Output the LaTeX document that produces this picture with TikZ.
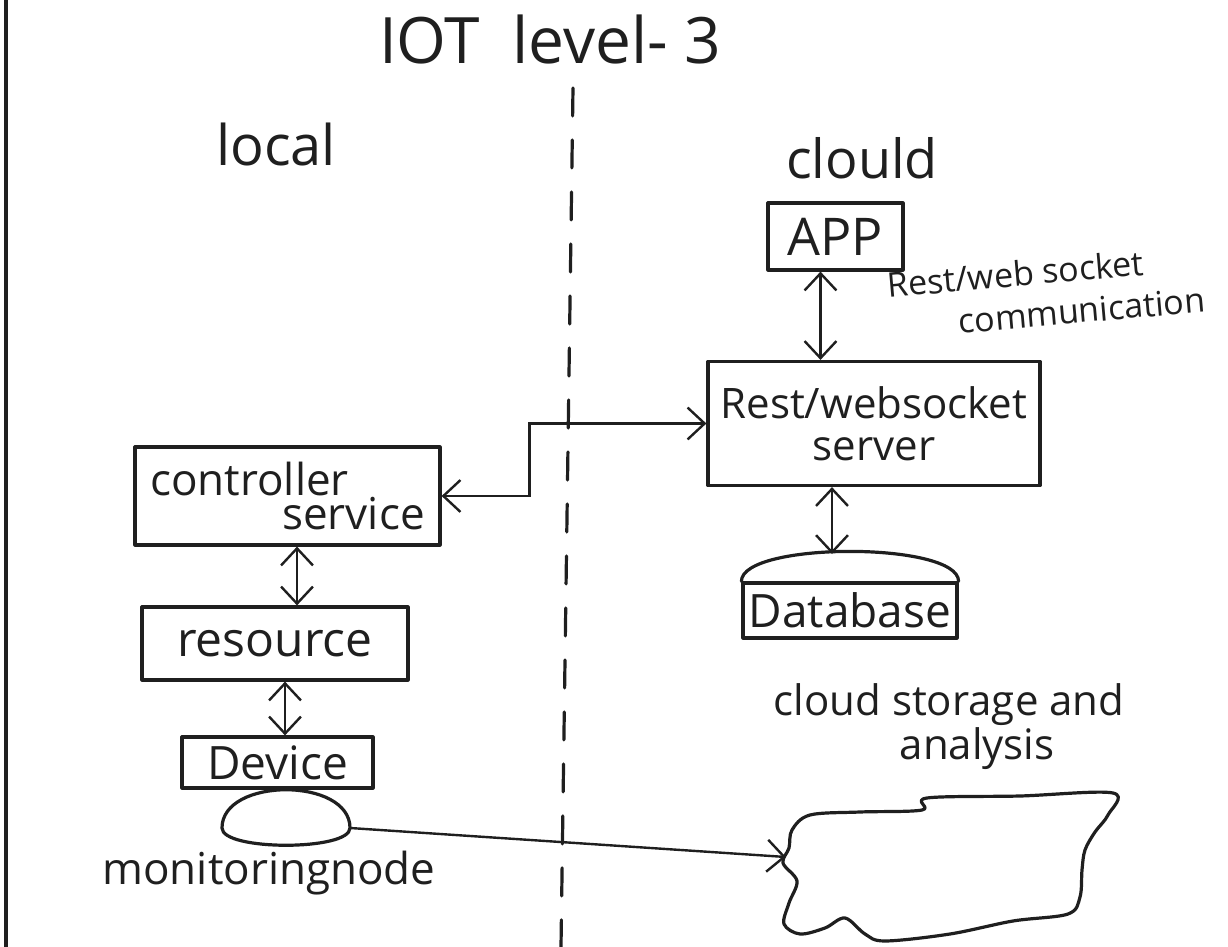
\documentclass[tikz,border=0pt]{standalone}
\usepackage{fontspec}
\setmainfont{Open Sans}
\usetikzlibrary{arrows.meta,positioning,calc}
\newcommand{\inksize}[2]{\fontsize{#1}{#2}\selectfont}

\begin{document}
\begin{tikzpicture}[
  x=0.5pt, y=-0.5pt,
  ink/.style={line width=1.6pt, black!88, line cap=round, line join=round},
  box/.style={ink, draw, rectangle, inner sep=0pt, align=center},
  link/.style={{Straight Barb[length=3mm,width=5.6mm]}-{Straight Barb[length=3mm,width=5.6mm]},
               line width=1.2pt, black!88},
  feed/.style={-{Straight Barb[length=3mm,width=5.6mm]}, line width=1.2pt, black!88},
  every node/.style={text=black!88}]

\useasboundingbox (0,0) rectangle (1228,947);

% ---- margin of the page and the dividing line ---------------------------
\draw[ink, line width=2.2pt] (6,0) -- (6,947);
\coordinate (divtop) at (573,88);
\coordinate (divbot) at (561,947);
\draw[ink, dash pattern=on 14pt off 12pt] (divtop) -- (divbot);

% ---- headings ------------------------------------------------------------
\node[font=\inksize{32}{36}] (title) at (550,40)  {IOT\hspace{0.5em}level- 3};
\node[font=\inksize{28}{30}] (loc)   at (276,145) {local};
\node[font=\inksize{27}{30}] (cld)   at (862,158) {clould};

% ---- cloud side ------------------------------------------------------------
\node[box, minimum width=67.5pt, minimum height=33.5pt, font=\inksize{26}{28}] (app)
     at (835.5,236.5) {APP};
\node[rotate=5, align=left, font=\inksize{17}{21}] (comm) at (1046,292)
     {Rest/web socket\\\hspace*{34pt}communication};
\node[box, minimum width=166pt, minimum height=62pt, font=\inksize{21}{21}] (srv)
     at (874,423.5) {Rest/websocket\\server};
\node[box, minimum width=107pt, minimum height=27.5pt, font=\inksize{23}{23}] (db)
     at (850,610.5) {Database};
\draw[ink] (db.north west) .. controls +(0,-40) and +(0,-40) .. (db.north east);
\coordinate (dbtop) at (832,554);

\node[align=left, font=\inksize{21}{20}] (store) at (949,727)
     {cloud storage and\\\hspace*{63pt}analysis};
\draw[ink] plot[smooth cycle, tension=0.55] coordinates {
  (1113,793) (1020,796) (927,798) (922,810) (860,812) (810,815) (792,830)
  (789,848) (783,863) (797,881) (789,903) (784,924) (800,934) (825,928)
  (845,918) (865,934) (885,941) (950,934) (1013,921) (1068,914) (1080,897)
  (1082,870) (1085,850) (1095,832) (1108,815)};
\coordinate (cloudL) at (786,857);

% ---- local side ------------------------------------------------------------
\node[box, minimum width=152.5pt, minimum height=49pt, align=left, font=\inksize{22}{14}] (ctrl)
     at (287.5,496) {controller\\\hspace*{66pt}service};
\node[box, minimum width=133pt, minimum height=36.5pt, font=\inksize{24}{24}] (res)
     at (275,643.5) {resource};
\node[box, minimum width=95.5pt, minimum height=25.5pt, font=\inksize{23}{23}] (dev)
     at (277.5,762.5) {Device};

% the monitoring node under the device
\coordinate (monL) at (222,828);
\coordinate (monR) at (350,828);
\draw[ink] (monL) .. controls +(0,-51) and +(0,-51) .. (monR)
                  .. controls +(0,23) and +(0,23) .. (monL) -- cycle;
\node[font=\inksize{22}{22}] (monlbl) at (269,873) {monitoringnode};

% ---- connectors ------------------------------------------------------------
\coordinate (appS)  at ([xshift=-7.5pt]app.south);
\coordinate (ctrlS) at ([xshift=4.75pt]ctrl.south);
\coordinate (resS)  at ([xshift=5pt]res.south);
\draw[link] (appS) -- (appS |- srv.north);
\draw[link] (dbtop |- srv.south) -- (dbtop);
\draw[link] (ctrl.east) -- ++(88,0) |- (srv.west);
\draw[link] (ctrlS) -- (ctrlS |- res.north);
\draw[link] (resS) -- (resS |- dev.north);
\draw[feed] (monR) -- (cloudL);

\end{tikzpicture}
\end{document}
